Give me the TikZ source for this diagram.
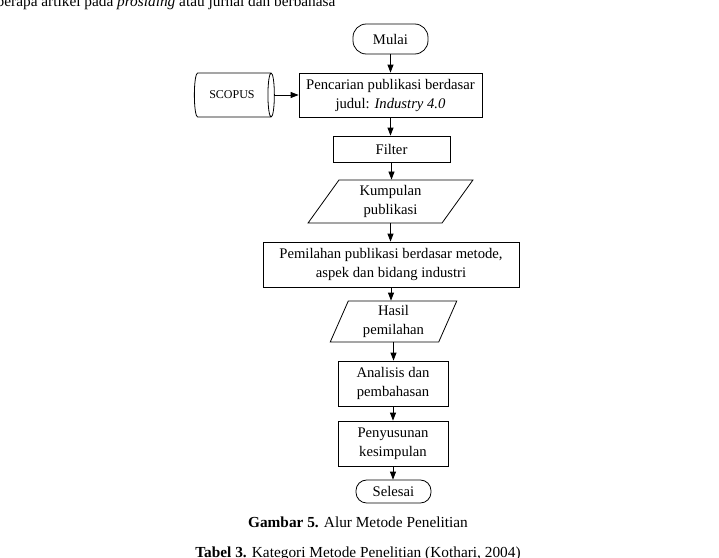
\documentclass[tikz,border=0pt]{standalone}
\usepackage{fontspec}
\setmainfont{Liberation Serif}
\usetikzlibrary{arrows.meta, shapes.geometric, positioning}
\tikzset{
	alur/.style={-{Triangle[length=6pt,width=4.5pt]}, line width=0.6pt},
	kotak/.style={draw, line width=0.6pt, align=center, inner sep=1pt,
		font=\fontsize{11}{14.25}\selectfont},
	terminal/.style={kotak, rounded corners=10pt},
	dataio/.style={kotak, trapezium, trapezium stretches=true},
	basisdata/.style={kotak, cylinder, shape aspect=0.6, font=\fontsize{9}{10}\selectfont}
}

\begin{document}
\begin{tikzpicture}[x=0.75pt, y=-0.75pt]
	\useasboundingbox (0,0) rectangle (719,558);
	\clip (0,0) rectangle (719,558);
	% teks halaman
	\node[anchor=base west, font=\fontsize{11.5}{14}\selectfont] (atas) at (-8,6) {berapa artikel pada \textit{prosiding} atau jurnal dan berbahasa};
	% diagram alur
	\node[terminal, minimum width=56.25pt, minimum height=22.5pt] (mulai) at (390.5,39) {Mulai};
	\node[kotak, minimum width=137.25pt, minimum height=33pt] (cari) at (390.5,95) {Pencarian publikasi berdasar\\judul: \textit{Industry 4.0}};
	\node[basisdata, minimum width=33pt, minimum height=60pt] (scopus) at (232,95) {SCOPUS};
	\node[kotak, minimum width=87.75pt, minimum height=19.5pt] (filter) at (391.5,149) {Filter};
	\node[dataio, trapezium left angle=61, trapezium right angle=119, minimum width=123.75pt, minimum height=32.25pt] (kumpulan) at (390.5,201.5) {Kumpulan\\publikasi};
	\node[kotak, minimum width=192pt, minimum height=33.75pt] (pilah) at (391,264.5) {Pemilahan publikasi berdasar metode,\\aspek dan bidang industri};
	\node[dataio, trapezium left angle=70, trapezium right angle=110, minimum width=95.25pt, minimum height=30.75pt] (hasil) at (393.5,321.5) {Hasil\\pemilahan};
	\node[kotak, minimum width=82.5pt, minimum height=33.75pt] (analisis) at (393,383.5) {Analisis dan\\pembahasan};
	\node[kotak, minimum width=82.5pt, minimum height=33.75pt] (susun) at (393,443.5) {Penyusunan\\kesimpulan};
	\node[terminal, rounded corners=8pt, minimum width=56.25pt, minimum height=17.25pt] (selesai) at (393.5,491.5) {Selesai};
	% panah
	\draw[alur] (mulai.south) -- (mulai.south |- cari.north);
	\draw[alur] (scopus.east) -- (scopus.east -| cari.west);
	\draw[alur] (cari.south) -- (cari.south |- filter.north);
	\draw[alur] (filter.south) -- (filter.south |- kumpulan.north);
	\draw[alur] (kumpulan.south) -- (kumpulan.south |- pilah.north);
	\draw[alur] (pilah.south) -- (pilah.south |- hasil.north);
	\draw[alur] (hasil.south) -- (hasil.south |- analisis.north);
	\draw[alur] (analisis.south) -- (analisis.south |- susun.north);
	\draw[alur] (susun.south) -- (susun.south |- selesai.north);
	% keterangan
	\node[anchor=base, font=\fontsize{11.5}{14}\selectfont] (judul) at (358,527) {\textbf{Gambar 5.} Alur Metode Penelitian};
	\node[anchor=base, font=\fontsize{11.5}{14}\selectfont] (tabel) at (358,557) {\textbf{Tabel 3.} Kategori Metode Penelitian (Kothari, 2004)};
\end{tikzpicture}
\end{document}
